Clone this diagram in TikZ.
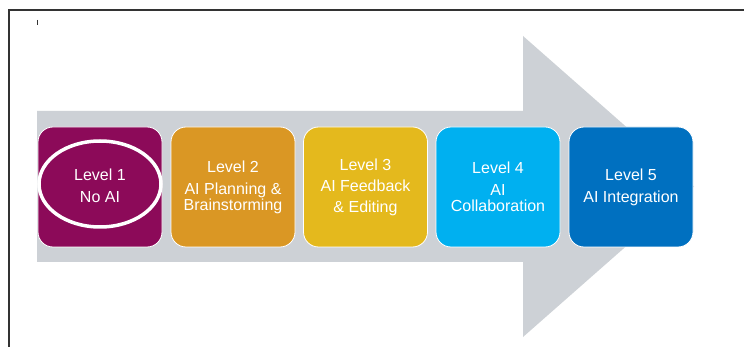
\documentclass[tikz,border=0pt]{standalone}
\usepackage{fontspec}
\setmainfont{Liberation Sans}
\definecolor{arrowgray}{HTML}{CDD1D6}
\definecolor{lvlone}{HTML}{8C0A59}
\definecolor{lvltwo}{HTML}{DA9724}
\definecolor{lvlthree}{HTML}{E4B91D}
\definecolor{lvlfour}{HTML}{00B0F0}
\definecolor{lvlfive}{HTML}{0070C0}
\definecolor{framegray}{HTML}{333333}
\tikzset{
  levelbox/.style={rectangle, rounded corners=15pt, draw=white, line width=0.8pt,
    minimum width=124pt, minimum height=120pt, inner sep=0pt, text=white,
    align=center, font=\fontsize{16}{16}\selectfont},
}
\begin{document}
\begin{tikzpicture}[x=1pt,y=-1pt]
\useasboundingbox (0,0) rectangle (744,347);
\fill[white] (0,0) rectangle (744,347);
% frame
\draw[framegray, line width=1.3pt] (9,347) -- (9,10) -- (744,10);
\draw[framegray, line width=0.5pt] (37,20) -- (37,25);
% arrow
\fill[arrowgray] (37,111) -- (523,111) -- (523,36) -- (694,186.5) -- (523,337) -- (523,262) -- (37,262) -- cycle;
% boxes
\node[levelbox, fill=lvlone]   (l1) at (100,187) {};
\node[levelbox, fill=lvltwo]   (l2) at (233,187) {Level 2\\[6pt]AI Planning \&\\Brainstorming};
\node[levelbox, fill=lvlthree] (l3) at (365.5,187) {Level 3\\[5pt]AI Feedback\\[5pt]\& Editing};
\node[levelbox, fill=lvlfour]  (l4) at (498,187) {Level 4\\[6pt]AI\\Collaboration};
\node[levelbox, fill=lvlfive]  (l5) at (631,187) {Level 5\\[6pt]AI Integration};
\draw[white, line width=3.5pt] (100,184) ellipse [x radius=61, y radius=43];
\node[text=white, align=center, font=\fontsize{16}{16}\selectfont] (t1) at (100,186) {Level 1\\[6pt]No AI};
\end{tikzpicture}
\end{document}
